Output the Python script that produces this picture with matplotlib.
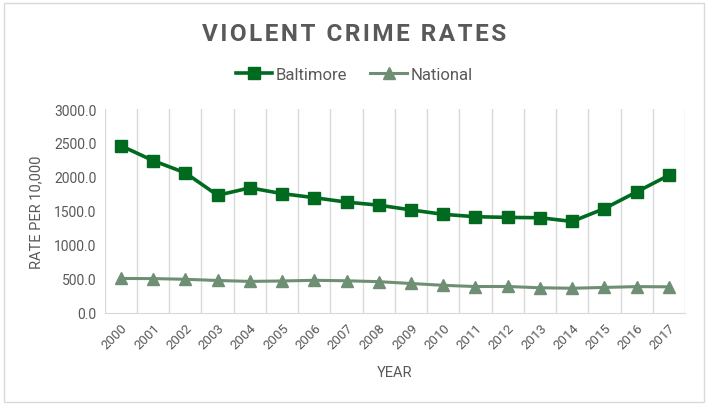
import matplotlib
matplotlib.use("Agg")
import matplotlib.pyplot as plt
from matplotlib.patches import Rectangle

years = [str(y) for y in range(2000, 2018)]
baltimore = [2460, 2240, 2060, 1730, 1840, 1755, 1695, 1630, 1585, 1515, 1450,
             1415, 1405, 1400, 1345, 1535, 1780, 2025]
national = [506, 504, 494, 476, 463, 469, 479, 472, 459, 432, 405,
            387, 388, 369, 362, 374, 386, 383]

plt.rcParams['font.family'] = ['Roboto', 'DejaVu Sans']
grey = '#595959'

fig = plt.figure(figsize=(7.08, 4.06), dpi=100)
fig.patches.append(Rectangle((0.006, 0.008), 0.988, 0.982, transform=fig.transFigure,
                             fill=False, edgecolor='#d9d9d9', linewidth=1.0))

ax = fig.add_axes([0.148, 0.227, 0.8195, 0.502])
xs = [i + 0.5 for i in range(len(years))]

ax.plot(xs, baltimore, color='#006a1e', lw=2.6, marker='s', ms=8.5,
        mec='#006a1e', label='Baltimore', zorder=3)
ax.plot(xs, national, color='#6e8f74', lw=2.2, marker='^', ms=8.5,
        mec='#6e8f74', label='National', zorder=3)

ax.set_xlim(0, len(years))
ax.set_ylim(0, 3000)
ax.set_yticks(range(0, 3001, 500))
ax.set_yticklabels([f'{v:.1f}' for v in range(0, 3001, 500)], color=grey, fontsize=10)
ax.set_xticks(xs)
ax.set_xticklabels(years, rotation=45, ha='right', rotation_mode='anchor',
                   color=grey, fontsize=9.5)
ax.tick_params(length=0, pad=6)
for b in range(len(years) + 1):
    ax.axvline(b, color='#d9d9d9', lw=1, zorder=0)
for s in ['top', 'right', 'left']:
    ax.spines[s].set_visible(False)
ax.spines['bottom'].set_color('#d9d9d9')

ax.set_xlabel('YEAR', color=grey, fontsize=10.5, labelpad=10)
ax.set_ylabel('RATE PER 10,000', color=grey, fontsize=10.5, labelpad=8)

# slightly spaced-out title like the original
fig.text(0.5, 0.915, '\u200a'.join('VIOLENT CRIME RATES'),
         ha='center', va='center', fontsize=17.5, fontweight='bold', color=grey)
fig.legend(loc='center', bbox_to_anchor=(0.5, 0.815), ncol=2, frameon=False,
           fontsize=12, labelcolor=grey, handlelength=2.2, handletextpad=0.2,
           columnspacing=1.4)

fig.savefig('out.png', dpi=100)
